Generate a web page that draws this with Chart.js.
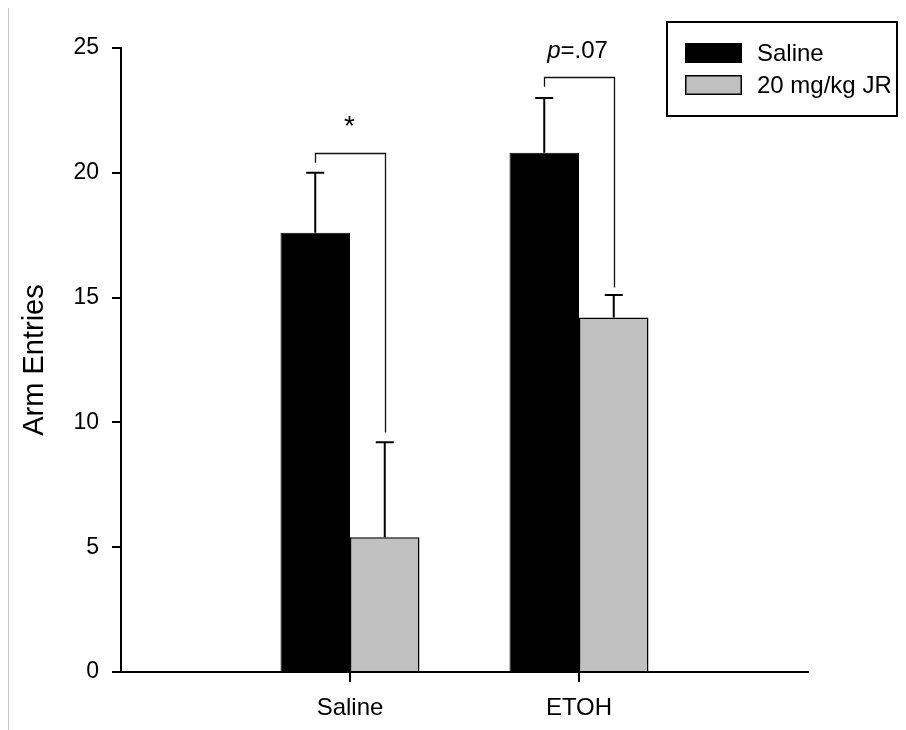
<!DOCTYPE html>
<html>
<head>
<meta charset="utf-8">
<script src="https://cdn.jsdelivr.net/npm/chart.js@4.4.1/dist/chart.umd.min.js"></script>
<style>
  html, body { margin: 0; padding: 0; background: #fff; }
</style>
</head>
<body>
<canvas id="myChart" width="906" height="730"></canvas>
<script>
// data
const groups = ["Saline", "ETOH"];
const seriesNames = ["Saline", "20 mg/kg JR"];
const salineMeans = [17.6, 20.8];
const salineSem = [2.4, 2.2];
const jrMeans = [5.4, 14.2];
const jrSem = [3.8, 0.9];
const yTicks = [0, 5, 10, 15, 20, 25];

// significance brackets (y values in data units)
const sigLabels = ["*", "p=.07"];
const bracketTop = [20.8, 23.85];
const bracketLeftEnd = [20.4, 23.45];
const bracketRightEnd = [9.6, 15.4];
const sigTextY = [22.0, 24.6];

const FONT = "'Liberation Sans', Arial, sans-serif";
Chart.defaults.font.family = FONT;
Chart.defaults.font.size = 23;
Chart.defaults.color = "#000";

// pad the category axis with an empty slot on each side
const labels = ["", ...groups, ""];
const pad = (arr) => [null, ...arr, null];
const semByDataset = [salineSem, jrSem];
const meanByDataset = [salineMeans, jrMeans];

const errorBars = {
  id: "errorBars",
  afterDatasetsDraw(chart) {
    const ctx = chart.ctx;
    const y = chart.scales.y;
    ctx.save();
    ctx.strokeStyle = "#000";
    ctx.lineWidth = 2;
    for (let d = 0; d < 2; d++) {
      const meta = chart.getDatasetMeta(d);
      groups.forEach((g, i) => {
        const el = meta.data[i + 1];
        const top = y.getPixelForValue(meanByDataset[d][i] + semByDataset[d][i]);
        ctx.beginPath();
        ctx.moveTo(el.x, el.y);
        ctx.lineTo(el.x, top);
        ctx.moveTo(el.x - 9, top);
        ctx.lineTo(el.x + 9, top);
        ctx.stroke();
      });
    }
    ctx.restore();
  },
};

const brackets = {
  id: "brackets",
  afterDatasetsDraw(chart) {
    const ctx = chart.ctx;
    const y = chart.scales.y;
    const m0 = chart.getDatasetMeta(0);
    const m1 = chart.getDatasetMeta(1);
    ctx.save();
    ctx.strokeStyle = "#111";
    ctx.lineWidth = 1.3;
    groups.forEach((g, i) => {
      const xl = Math.round(m0.data[i + 1].x) + 0.5;
      const xr = Math.round(m1.data[i + 1].x) + 0.5;
      const yt = Math.round(y.getPixelForValue(bracketTop[i])) + 0.5;
      ctx.beginPath();
      ctx.moveTo(xl, y.getPixelForValue(bracketLeftEnd[i]));
      ctx.lineTo(xl, yt);
      ctx.lineTo(xr, yt);
      ctx.lineTo(xr, y.getPixelForValue(bracketRightEnd[i]));
      ctx.stroke();

      const cx = (xl + xr) / 2;
      const ty = y.getPixelForValue(sigTextY[i]);
      ctx.fillStyle = "#000";
      ctx.textBaseline = "alphabetic";
      const lab = sigLabels[i];
      if (lab.startsWith("p")) {
        const rest = lab.slice(1);
        ctx.font = "italic 24px " + FONT;
        const wp = ctx.measureText("p").width;
        ctx.font = "24px " + FONT;
        const wr = ctx.measureText(rest).width;
        const x0 = cx - 2 - (wp + wr) / 2;
        ctx.font = "italic 24px " + FONT;
        ctx.textAlign = "left";
        ctx.fillText("p", x0, ty);
        ctx.font = "24px " + FONT;
        ctx.fillText(rest, x0 + wp, ty);
      } else {
        ctx.font = "28px " + FONT;
        ctx.textAlign = "center";
        ctx.textBaseline = "middle";
        ctx.fillText(lab, cx - 1, ty + 4);
      }
    });
    ctx.restore();
  },
};

const decorations = {
  id: "decorations",
  afterDraw(chart) {
    const ctx = chart.ctx;
    ctx.save();
    // faint frame line on the left edge
    ctx.strokeStyle = "#c8c8c8";
    ctx.lineWidth = 1;
    ctx.beginPath();
    ctx.moveTo(8.5, 8);
    ctx.lineTo(8.5, 730);
    ctx.stroke();

    // y axis title
    ctx.fillStyle = "#000";
    ctx.font = "29px " + FONT;
    ctx.translate(35, (chart.chartArea.top + chart.chartArea.bottom) / 2);
    ctx.rotate(-Math.PI / 2);
    ctx.textAlign = "center";
    ctx.textBaseline = "middle";
    ctx.fillText("Arm Entries", 0, 0);
    ctx.restore();

    // boxed legend
    ctx.save();
    ctx.strokeStyle = "#000";
    ctx.lineWidth = 2;
    ctx.strokeRect(667, 22, 230, 94);
    chart.data.datasets.forEach((ds, k) => {
      const top = 43 + k * 32;
      ctx.fillStyle = ds.backgroundColor;
      ctx.fillRect(685, top, 57, 20);
      ctx.lineWidth = 1.5;
      ctx.strokeStyle = "#000";
      ctx.strokeRect(685.75, top + 0.75, 55.5, 18.5);
      ctx.fillStyle = "#000";
      ctx.font = "24px " + FONT;
      ctx.textAlign = "left";
      ctx.textBaseline = "middle";
      ctx.fillText(ds.label, 757, top + 11);
    });
    ctx.restore();
  },
};

const ctx = document.getElementById("myChart").getContext("2d");
const myChart = new Chart(ctx, {
  type: "bar",
  data: {
    labels: labels,
    datasets: [
      {
        label: seriesNames[0],
        data: pad(salineMeans),
        backgroundColor: "#000000",
        borderColor: "#000000",
        borderWidth: 1,
      },
      {
        label: seriesNames[1],
        data: pad(jrMeans),
        backgroundColor: "#c0c0c0",
        borderColor: "#000000",
        borderWidth: 1.5,
      },
    ],
  },
  options: {
    responsive: false,
    animation: false,
    categoryPercentage: 0.607,
    barPercentage: 1.0,
    layout: { padding: { left: 0, right: 98, top: 48, bottom: 0 } },
    plugins: {
      legend: { display: false },
      tooltip: { enabled: false },
    },
    scales: {
      x: {
        offset: false,
        grid: {
          offset: false,
          drawOnChartArea: false,
          drawTicks: true,
          tickLength: 10,
          lineWidth: 2,
          tickColor: (c) => (c.index === 0 || c.index === labels.length - 1 ? "rgba(0,0,0,0)" : "#000"),
        },
        border: { display: true, color: "#000", width: 2 },
        ticks: { padding: 12, maxRotation: 0, autoSkip: false, font: { size: 24 } },
        afterFit: (scale) => {
          scale.height = 58;
        },
      },
      y: {
        min: yTicks[0],
        max: yTicks[yTicks.length - 1],
        afterBuildTicks: (scale) => {
          scale.ticks = yTicks.map((v) => ({ value: v }));
        },
        grid: {
          drawOnChartArea: false,
          drawTicks: true,
          tickLength: 9,
          lineWidth: 2,
          tickColor: "#000",
        },
        border: { display: true, color: "#000", width: 2 },
        ticks: { padding: 13 },
        afterFit: (scale) => {
          scale.width = 121;
        },
      },
    },
  },
  plugins: [errorBars, brackets, decorations],
});
</script>
</body>
</html>
